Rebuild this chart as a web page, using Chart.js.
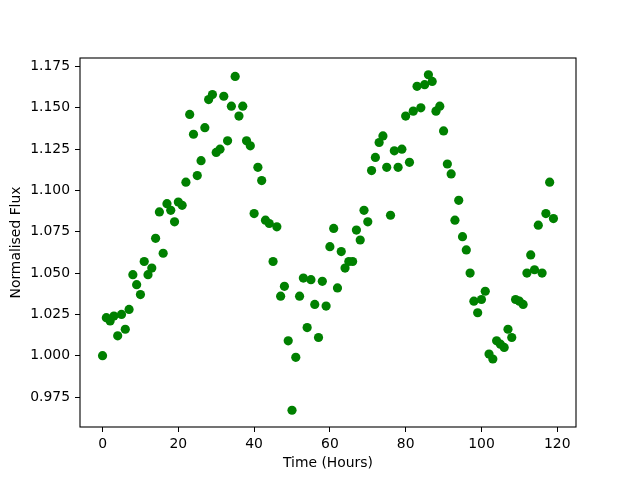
<!DOCTYPE html>
<html>
<head>
<meta charset="utf-8">
<script src="https://cdn.jsdelivr.net/npm/chart.js@4/dist/chart.umd.min.js"></script>
<style>
    html, body { margin: 0; padding: 0; background: #ffffff; }
    canvas { display: block; }
</style>
</head>
<body>
<canvas id="fluxChart" width="640" height="480"></canvas>
<script>
// time in hours
const hours = [
    0, 1, 2, 3, 4, 5, 6, 7, 8, 9, 10, 11, 12, 13, 14, 15, 16, 17, 18, 19,
    20, 21, 22, 23, 24, 25, 26, 27, 28, 29, 30, 31, 32, 33, 34, 35, 36, 37, 38, 39,
    40, 41, 42, 43, 44, 45, 46, 47, 48, 49, 50, 51, 52, 53, 54, 55, 56, 57, 58, 59,
    60, 61, 62, 63, 64, 65, 66, 67, 68, 69, 70, 71, 72, 73, 74, 75, 76, 77, 78, 79,
    80, 81, 82, 83, 84, 85, 86, 87, 88, 89, 90, 91, 92, 93, 94, 95, 96, 97, 98, 99,
    100, 101, 102, 103, 104, 105, 106, 107, 108, 109, 110, 111, 112, 113, 114, 115, 116, 117, 118, 119
];

// normalised flux
const flux = [
    1.000, 1.023, 1.021, 1.024, 1.012, 1.025, 1.016, 1.028, 1.049, 1.043,
    1.037, 1.057, 1.049, 1.053, 1.071, 1.087, 1.062, 1.092, 1.088, 1.081,
    1.093, 1.091, 1.105, 1.146, 1.134, 1.109, 1.118, 1.138, 1.155, 1.158,
    1.123, 1.125, 1.157, 1.130, 1.151, 1.169, 1.145, 1.151, 1.130, 1.127,
    1.086, 1.114, 1.106, 1.082, 1.080, 1.057, 1.078, 1.036, 1.042, 1.009,
    0.967, 0.999, 1.036, 1.047, 1.017, 1.046, 1.031, 1.011, 1.045, 1.030,
    1.066, 1.077, 1.041, 1.063, 1.053, 1.057, 1.057, 1.076, 1.070, 1.088,
    1.081, 1.112, 1.120, 1.129, 1.133, 1.114, 1.085, 1.124, 1.114, 1.125,
    1.145, 1.117, 1.148, 1.163, 1.150, 1.164, 1.170, 1.166, 1.148, 1.151,
    1.136, 1.116, 1.110, 1.082, 1.094, 1.072, 1.064, 1.050, 1.033, 1.026,
    1.034, 1.039, 1.001, 0.998, 1.009, 1.007, 1.005, 1.016, 1.011, 1.034,
    1.033, 1.031, 1.050, 1.061, 1.052, 1.079, 1.050, 1.086, 1.105, 1.083
];

const xTicks = [0, 20, 40, 60, 80, 100, 120];
const yTicks = [0.975, 1.000, 1.025, 1.050, 1.075, 1.100, 1.125, 1.150, 1.175];

const FONT = "'DejaVu Sans', sans-serif";

// matplotlib style 5% margins
const xMin = Math.min(...hours), xMax = Math.max(...hours);
const yMin = Math.min(...flux), yMax = Math.max(...flux);
const xPad = (xMax - xMin) * 0.05;
const yPad = (yMax - yMin) * 0.05;

const points = hours.map((h, i) => ({ x: h, y: flux[i] }));

// frame around the plot area
const framePlugin = {
    id: "frame",
    afterDatasetsDraw(chart) {
        const { ctx, chartArea } = chart;
        ctx.save();
        ctx.strokeStyle = "#000000";
        ctx.lineWidth = 1.1;
        ctx.strokeRect(chartArea.left, chartArea.top,
            chartArea.right - chartArea.left, chartArea.bottom - chartArea.top);
        ctx.restore();
    }
};

const ctx = document.getElementById("fluxChart").getContext("2d");

new Chart(ctx, {
    type: "scatter",
    data: {
        datasets: [{
            label: "Flux",
            data: points,
            backgroundColor: "#008000",
            borderWidth: 0,
            pointRadius: 4.6,
            pointHoverRadius: 4.6
        }]
    },
    options: {
        responsive: false,
        animation: false,
        layout: { padding: { top: 58, right: 64, left: 0, bottom: 0 } },
        plugins: {
            legend: { display: false },
            tooltip: { enabled: false }
        },
        scales: {
            x: {
                type: "linear",
                min: xMin - xPad,
                max: xMax + xPad,
                afterBuildTicks: (scale) => { scale.ticks = xTicks.map(v => ({ value: v })); },
                afterFit: (scale) => { scale.height = 53; },
                border: { display: false },
                grid: {
                    drawOnChartArea: false,
                    drawTicks: true,
                    tickLength: 5,
                    color: "#000000",
                    lineWidth: 1
                },
                ticks: {
                    color: "#000000",
                    padding: 4,
                    maxRotation: 0,
                    font: { family: FONT, size: 13.9 },
                    callback: (v) => String(v)
                },
                title: {
                    display: true,
                    text: "Time (Hours)",
                    color: "#000000",
                    padding: { top: 0, bottom: 8.5 },
                    font: { family: FONT, size: 13.9 }
                }
            },
            y: {
                type: "linear",
                min: yMin - yPad,
                max: yMax + yPad,
                afterBuildTicks: (scale) => { scale.ticks = yTicks.map(v => ({ value: v })); },
                afterFit: (scale) => { scale.width = 80; },
                border: { display: false },
                grid: {
                    drawOnChartArea: false,
                    drawTicks: true,
                    tickLength: 5,
                    color: "#000000",
                    lineWidth: 1
                },
                ticks: {
                    color: "#000000",
                    padding: 5,
                    font: { family: FONT, size: 13.9 },
                    callback: (v) => Number(v).toFixed(3)
                },
                title: {
                    display: true,
                    text: "Normalised Flux",
                    color: "#000000",
                    padding: { top: 8, bottom: 0 },
                    font: { family: FONT, size: 13.9 }
                }
            }
        }
    },
    plugins: [framePlugin]
});
</script>
</body>
</html>
